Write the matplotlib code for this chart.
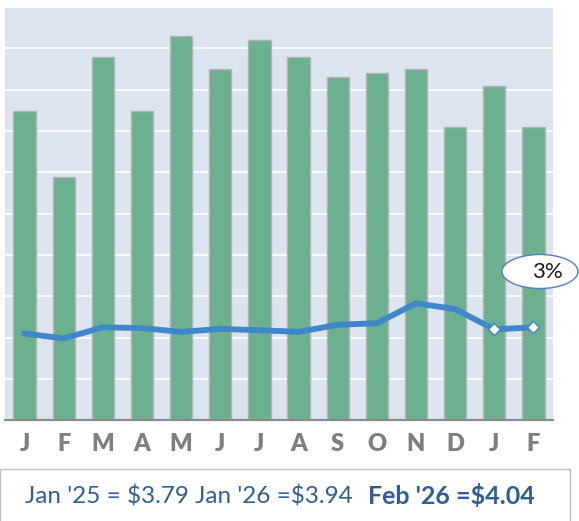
import matplotlib
matplotlib.use("Agg")
import matplotlib.pyplot as plt
from matplotlib.patches import Ellipse, Rectangle

months = ["J", "F", "M", "A", "M", "J", "J", "A", "S", "O", "N", "D", "J", "F"]
bar_values = [7.49, 5.89, 8.80, 7.49, 9.31, 8.50, 9.20, 8.80, 8.30, 8.41, 8.50, 7.10, 8.09, 7.10]
line_values = [2.10, 1.98, 2.25, 2.23, 2.14, 2.21, 2.18, 2.14, 2.31, 2.35, 2.83, 2.69, 2.20, 2.25]
marker_idx = [12, 13]
callout_text = "3%"
footer_normal = "Jan '25 = $3.79 Jan '26 =$3.94"
footer_bold = "Feb '26 =$4.04"

W, H = 579, 521
fig = plt.figure(figsize=(W / 100, H / 100), dpi=100)
fig.patch.set_facecolor("white")
plt.rcParams['font.family'] = ['Lato', 'DejaVu Sans']

def fx(px):
    return px / W

def fy(py):
    return (H - py) / H

ax = fig.add_axes([fx(5), fy(420.3), fx(553) - fx(5), fy(7) - fy(420.3)])
ax.set_facecolor("#DCE4F0")
x = list(range(len(months)))
ax.bar(x, bar_values, width=0.57, color="#6BB08F", edgecolor="#B4B4B4", linewidth=1.0, zorder=3)
ax.plot(x, line_values, color="#3F86CA", linewidth=4.2, solid_joinstyle="miter", zorder=4)
ax.plot([x[i] for i in marker_idx], [line_values[i] for i in marker_idx], linestyle="none",
        marker="D", markersize=6.5, markerfacecolor="white", markeredgecolor="#3F86CA",
        markeredgewidth=1.0, zorder=5)

ax.set_xlim(-0.5, len(months) - 0.5)
ax.set_ylim(0, 10)
ax.set_yticks(range(0, 11))
ax.yaxis.grid(True, color="white", linewidth=1.2, zorder=0)
ax.set_axisbelow(True)
ax.tick_params(axis="y", left=False, labelleft=False)
ax.set_xticks(x)
ax.set_xticklabels(months, fontsize=17, fontweight="heavy", color="#7F7F7F")
ax.tick_params(axis="x", length=0, pad=9)
for s in ["top", "right", "left"]:
    ax.spines[s].set_visible(False)
ax.spines["bottom"].set_color("#8C8C8C")
ax.spines["bottom"].set_linewidth(1.6)
ax.spines["bottom"].set_zorder(6)

# callout ellipse
ell = Ellipse((fx(540), fy(271.5)), fx(76), 34 / H, transform=fig.transFigure,
              facecolor="white", edgecolor="#4F7FBF", linewidth=1.0, zorder=10)
fig.add_artist(ell)
fig.text(fx(547), fy(272), callout_text, ha="center", va="center", fontsize=16, color="#1A1A1A", zorder=11)

# footer box
rect = Rectangle((fx(0), fy(540)), fx(570), (540 - 469.3) / H, transform=fig.transFigure,
                 facecolor="white", edgecolor="#BFBFBF", linewidth=1.0, clip_on=False)
fig.add_artist(rect)
fig.text(fx(25), fy(504), footer_normal, ha="left", va="baseline", fontsize=17.5, color="#2F5E99",
         parse_math=False)
fig.text(fx(535), fy(504), footer_bold, ha="right", va="baseline", fontsize=18, fontweight="bold",
         color="#2F5E99", parse_math=False)

fig.savefig("out.png", dpi=100)
